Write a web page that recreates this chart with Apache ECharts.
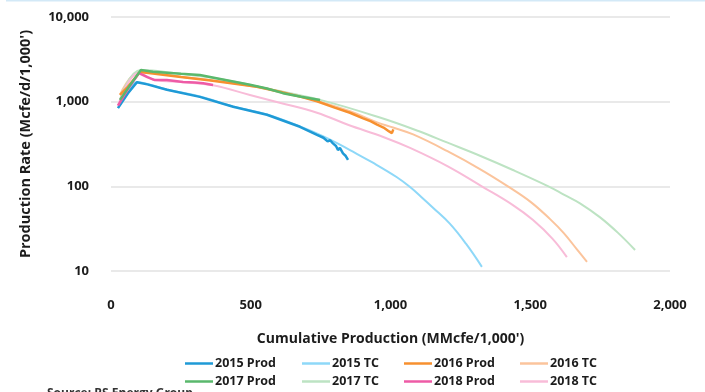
<!DOCTYPE html>
<html>
<head>
<meta charset="utf-8">
<script src="https://cdn.jsdelivr.net/npm/echarts@6/dist/echarts.min.js"></script>
<style>
  html, body { margin: 0; padding: 0; background: #ffffff; }
  #chart { width: 705px; height: 392px; }
</style>
</head>
<body>
<div id="chart"></div>
<script>
// Cumulative production (MMcfe/1,000') vs. production rate (Mcfe/d/1,000')
const xTicks = [0, 500, 1000, 1500, 2000];
const yTicks = [10, 100, 1000, 10000];

const prod2015 = [[25, 840], [60, 1250], [93, 1700], [130, 1600], [200, 1380], [318, 1140], [437, 870],
  [558, 700], [676, 505], [737, 405], [760, 375], [775, 340], [784, 350], [794, 322], [805, 300],
  [812, 268], [819, 285], [830, 245], [840, 228], [848, 205]];
const tc2015 = [[25, 840], [60, 1250], [93, 1700], [200, 1390], [318, 1150], [437, 880], [558, 705],
  [676, 510], [760, 390], [819, 310], [855, 268], [937, 190], [1023, 128], [1070, 98], [1116, 72],
  [1152, 56], [1213, 36], [1270, 21], [1327, 11.2]];

const prod2016 = [[32, 1200], [60, 1500], [104, 2240], [150, 2150], [250, 1960], [350, 1790], [450, 1620],
  [522, 1500], [600, 1320], [680, 1140], [737, 1010], [800, 850], [855, 740], [900, 640], [930, 585],
  [952, 535], [975, 495], [995, 445], [1005, 425], [1010, 470]];
const tc2016 = [[32, 1200], [104, 2240], [250, 1970], [450, 1630], [600, 1330], [737, 1020], [855, 770],
  [952, 570], [1009, 495], [1081, 410], [1202, 262], [1320, 160], [1420, 100], [1500, 66], [1571, 41],
  [1620, 28], [1667, 18], [1703, 12.8]];

const prod2017 = [[32, 1050], [70, 1600], [107, 2370], [150, 2260], [250, 2130], [318, 2060], [400, 1830],
  [497, 1580], [558, 1430], [615, 1260], [680, 1140], [748, 1045]];
const tc2017 = [[32, 1050], [107, 2370], [250, 2130], [400, 1830], [558, 1430], [748, 1050], [962, 650],
  [1100, 450], [1202, 330], [1320, 230], [1438, 156], [1565, 100], [1620, 80], [1678, 63], [1750, 43],
  [1815, 28], [1875, 17.7]];

const prod2018 = [[25, 900], [60, 1400], [100, 2180], [130, 1950], [157, 1800], [200, 1800], [258, 1710],
  [300, 1680], [330, 1650], [365, 1575]];
const tc2018 = [[25, 900], [100, 2180], [157, 1800], [258, 1700], [365, 1560], [497, 1200], [600, 980],
  [737, 740], [850, 530], [974, 383], [1070, 284], [1205, 172], [1331, 98], [1438, 60], [1510, 40],
  [1580, 24], [1631, 14.6]];

const seriesDefs = [
  { name: '2015 TC',   data: tc2015,   color: '#8ed8f8', width: 2 },
  { name: '2016 TC',   data: tc2016,   color: '#fbc49c', width: 2 },
  { name: '2017 TC',   data: tc2017,   color: '#bde3c3', width: 2 },
  { name: '2018 TC',   data: tc2018,   color: '#f8bcd8', width: 2 },
  { name: '2015 Prod', data: prod2015, color: '#1f9ad6', width: 2.5 },
  { name: '2016 Prod', data: prod2016, color: '#f7902f', width: 2.5 },
  { name: '2018 Prod', data: prod2018, color: '#ee5ba6', width: 2.5 },
  { name: '2017 Prod', data: prod2017, color: '#5ab86c', width: 2.5 }
];

const FONT = 'Open Sans';
const TEXT = '#1c1c1c';
const fmt = v => Number(v).toLocaleString('en-US');

const legendColumns = [
  { left: 185, data: ['2015 Prod', '2017 Prod'] },
  { left: 302, data: ['2015 TC', '2017 TC'] },
  { left: 404, data: ['2016 Prod', '2018 Prod'] },
  { left: 520, data: ['2016 TC', '2018 TC'] }
];

const chart = echarts.init(document.getElementById('chart'), null, { renderer: 'canvas' });
chart.setOption({
  animation: false,
  backgroundColor: '#ffffff',
  grid: { left: 111, right: 35, top: 17, bottom: 121 },
  xAxis: {
    type: 'value',
    min: xTicks[0],
    max: xTicks[xTicks.length - 1],
    interval: 500,
    axisLine: { show: false },
    axisTick: { show: false },
    splitLine: { show: false },
    axisLabel: { margin: 28, color: TEXT, fontFamily: FONT, fontWeight: 'bold', fontSize: 13, formatter: fmt },
    name: "Cumulative Production (MMcfe/1,000')",
    nameLocation: 'middle',
    nameGap: 61,
    nameTextStyle: { color: TEXT, fontFamily: FONT, fontWeight: 'bold', fontSize: 14 }
  },
  yAxis: {
    type: 'log',
    logBase: 10,
    min: yTicks[0],
    max: yTicks[yTicks.length - 1],
    axisLine: { show: false },
    axisTick: { show: false },
    splitLine: { show: true, lineStyle: { color: '#e2e2e2', width: 1.5 } },
    axisLabel: { margin: 22, color: TEXT, fontFamily: FONT, fontWeight: 'bold', fontSize: 13, formatter: fmt },
    name: "Production Rate (Mcfe/d/1,000')",
    nameLocation: 'middle',
    nameRotate: 90,
    nameGap: 78,
    nameTextStyle: { color: TEXT, fontFamily: FONT, fontWeight: 'bold', fontSize: 14.5 }
  },
  legend: legendColumns.map(col => ({
    orient: 'vertical',
    left: col.left,
    top: 357,
    icon: 'rect',
    itemWidth: 28,
    itemHeight: 2.5,
    itemGap: 5,
    padding: 0,
    data: col.data,
    textStyle: { color: TEXT, fontFamily: FONT, fontWeight: 'bold', fontSize: 12.5, padding: [0, 0, 0, -3] }
  })),
  graphic: [
    { type: 'rect', left: 6, top: 0, shape: { width: 699, height: 1.5 }, style: { fill: '#d3e9f7' } },
    { type: 'text', left: 47, top: 388, style: { text: 'Source: RS Energy Group', fill: '#333333',
      font: 'bold 12px "Open Sans"' } }
  ],
  series: seriesDefs.map(s => ({
    name: s.name,
    type: 'line',
    data: s.data,
    symbol: 'none',
    smooth: s.width < 2.5 ? 0.4 : false,
    color: s.color,
    lineStyle: { color: s.color, width: s.width },
    emphasis: { disabled: true }
  }))
});
</script>
</body>
</html>
